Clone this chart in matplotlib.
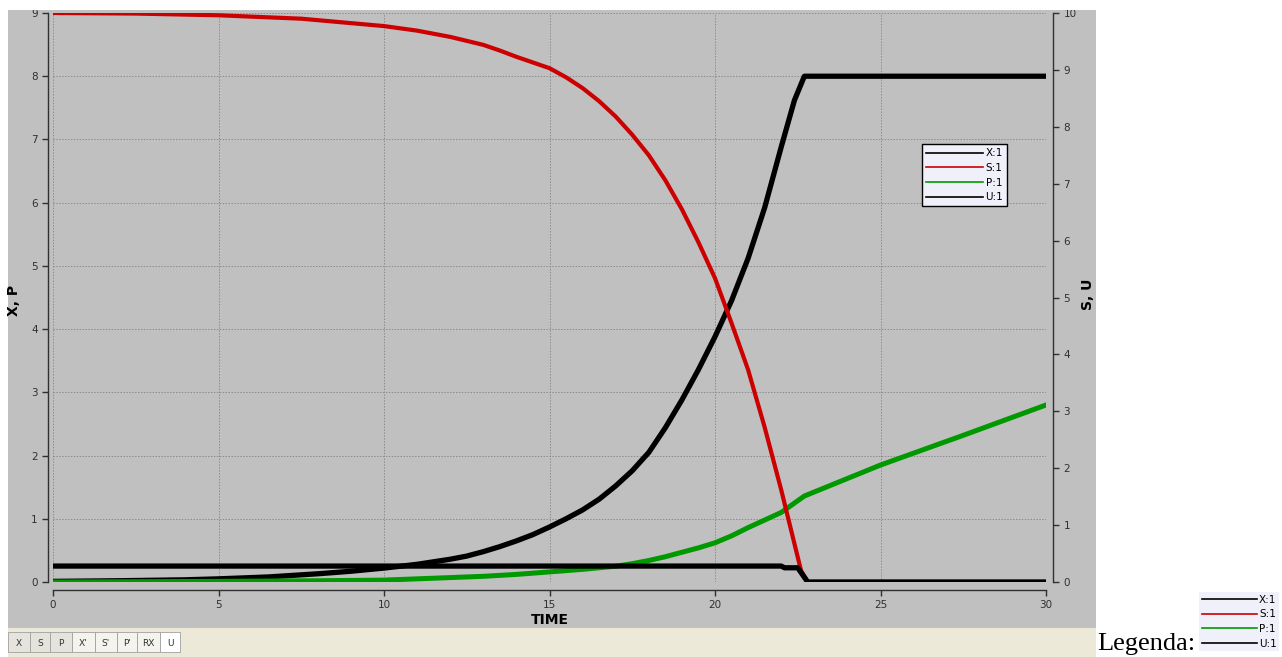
import matplotlib.pyplot as plt
from matplotlib.patches import Rectangle
from matplotlib.lines import Line2D

# Biomassa X (eixo esquerdo)
t_x = [0, 2, 4, 5, 6.5, 8, 9, 10, 11, 12, 12.5, 13, 13.5, 14, 14.5, 15, 15.5, 16, 16.5,
       17, 17.5, 18, 18.5, 19, 19.5, 20, 20.5, 21, 21.5, 22, 22.4, 22.7, 30]
x_vals = [0.01, 0.02, 0.035, 0.05, 0.08, 0.13, 0.17, 0.22, 0.28, 0.36, 0.41, 0.48, 0.56,
          0.65, 0.75, 0.87, 1.0, 1.14, 1.31, 1.52, 1.76, 2.05, 2.44, 2.88, 3.36, 3.88,
          4.45, 5.12, 5.92, 6.88, 7.62, 8.0, 8.0]

# Substrato S (eixo direito)
t_s = [0, 2.5, 5, 7.5, 10, 11, 12, 13, 13.5, 14, 14.5, 15, 15.5, 16, 16.5, 17, 17.5,
       18, 18.5, 19, 19.5, 20, 20.5, 21, 21.5, 22, 22.3, 22.6, 22.8, 30]
s_vals = [10.0, 9.99, 9.96, 9.9, 9.77, 9.69, 9.58, 9.44, 9.34, 9.23, 9.13, 9.03, 8.87,
          8.68, 8.45, 8.18, 7.86, 7.5, 7.06, 6.55, 5.97, 5.34, 4.55, 3.73, 2.72, 1.62,
          0.91, 0.2, 0.0, 0.0]

# Produto P (eixo esquerdo)
t_p = [0, 5, 8, 10, 11, 12, 13, 14, 15, 16, 17, 17.5, 18, 18.5, 19, 19.5, 20, 20.5,
       21, 21.5, 22, 22.7, 25, 27.5, 30]
p_vals = [0.0, 0.01, 0.02, 0.03, 0.05, 0.07, 0.09, 0.12, 0.16, 0.2, 0.25, 0.29, 0.34,
          0.40, 0.47, 0.54, 0.62, 0.73, 0.86, 0.98, 1.1, 1.36, 1.85, 2.32, 2.8]

# Controle U (eixo direito)
t_u = [0, 22.0, 22.1, 22.5, 22.8, 30]
u_vals = [0.28, 0.28, 0.25, 0.25, 0.0, 0.0]

series_labels = ['X:1', 'S:1', 'P:1', 'U:1']
series_colors = ['black', '#cc0000', '#009900', 'black']
tab_labels = ['X', 'S', 'P', "X'", "S'", "P'", 'RX', 'U']

W, H = 1282, 657
fig = plt.figure(figsize=(W / 100, H / 100), dpi=100)
fig.patch.set_facecolor('white')

# fundo cinza do painel e barra de abas
fig.patches.append(Rectangle((8 / W, 29 / H), 1088 / W, 618 / H, transform=fig.transFigure,
                             facecolor='#c0c0c0', edgecolor='none', zorder=-2))
fig.patches.append(Rectangle((8 / W, 0), 1088 / W, 29 / H, transform=fig.transFigure,
                             facecolor='#ece9d8', edgecolor='none', zorder=-2))
tab_edges = [8, 30, 50, 72, 95, 117, 137, 160, 180]
for i, lab in enumerate(tab_labels):
    x0 = tab_edges[i]
    w = tab_edges[i + 1] - x0
    fc = '#ffffff' if lab == 'U' else ('#e4e3dc' if i < 3 else '#f4f3ee')
    fig.patches.append(Rectangle((x0 / W, 5 / H), w / W, 20 / H, transform=fig.transFigure,
                                 facecolor=fc, edgecolor='#a0a0a0', lw=0.6, zorder=-1))
    fig.text((x0 + w / 2) / W, 14 / H, lab, ha='center', va='center', fontsize=6.5,
             color='#333333')

ax = fig.add_axes([53 / W, 75 / H, 993 / W, 569 / H])
ax.set_facecolor('#c0c0c0')
ax2 = ax.twinx()

ax.set_xlim(0, 30)
ax.set_ylim(0, 9)
ax2.set_ylim(0, 10)
ax.set_xticks(range(0, 31, 5))
ax.set_yticks(range(0, 10))
ax2.set_yticks(range(0, 11))

ax.grid(True, color='#8c8c8c', linestyle=(0, (1.5, 1.5)), linewidth=0.7)

ax.plot(t_x, x_vals, color=series_colors[0], lw=3.8, zorder=3)
ax.plot(t_p, p_vals, color=series_colors[2], lw=3.6, zorder=3)
ax2.plot(t_s, s_vals, color=series_colors[1], lw=3.0, zorder=3)
ax2.plot(t_u, u_vals, color=series_colors[3], lw=3.8, zorder=3)

for a in (ax, ax2):
    a.spines['top'].set_visible(False)
    for s in a.spines.values():
        s.set_color('#303030')
        s.set_linewidth(1.0)
    a.tick_params(labelsize=7.5, colors='#303030', length=4, width=1)
ax.spines['left'].set_position(('outward', 3.6))
ax.spines['bottom'].set_position(('outward', 5.8))
ax.spines['right'].set_visible(False)
ax2.spines['left'].set_visible(False)
ax2.spines['bottom'].set_visible(False)
ax2.spines['right'].set_position(('outward', 5.0))

ax.set_xlabel('TIME', fontsize=10, fontweight='bold')
ax.set_ylabel('X, P', fontsize=10, fontweight='bold')
ax2.set_ylabel('S, U', fontsize=10, fontweight='bold', rotation=90)
ax.xaxis.set_label_coords(0.5, -0.0545)
ax.yaxis.set_label_coords(-0.032, 0.495)
ax2.yaxis.set_label_coords(1.035, 0.505)

handles = [Line2D([], [], color=c, lw=1.2) for c in series_colors]
ax2.legend(handles, series_labels, loc='upper left', bbox_to_anchor=(922 / W, 1 - 144 / H),
           bbox_transform=fig.transFigure, fontsize=7.5, frameon=True, fancybox=False,
           facecolor='#f0f0fa', edgecolor='black', framealpha=1, handlelength=5.5,
           handletextpad=0.2, labelspacing=0.45, borderpad=0.4, borderaxespad=0)

# legenda externa
fig.text(1097 / W, 7 / H, 'Legenda:', fontsize=19, family='Liberation Serif',
         ha='left', va='baseline')
fig.legend(handles, series_labels, loc='upper left', bbox_to_anchor=(1199 / W, 1 - 592 / H),
           fontsize=7.5, frameon=True, fancybox=False, facecolor='#f0f0fa',
           edgecolor='none', framealpha=1, handlelength=5.3, handletextpad=0.2,
           labelspacing=0.45, borderpad=0.25, borderaxespad=0)

# corta a faixa superior em branco
fig.patches.append(Rectangle((0, 1 - 10 / H), 1, 10 / H, transform=fig.transFigure,
                             facecolor='white', edgecolor='none', zorder=10))

fig.savefig('out.png', dpi=100)
